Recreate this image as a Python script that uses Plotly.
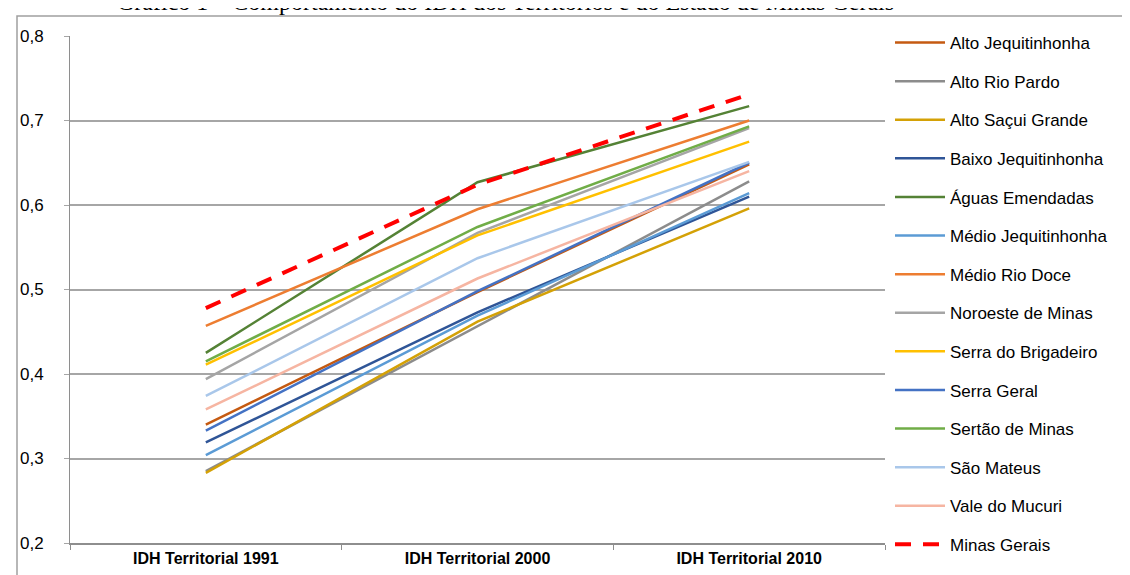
import plotly.graph_objects as go

categories = ["IDH Territorial 1991", "IDH Territorial 2000", "IDH Territorial 2010"]

alto_jequitinhonha = [0.340, 0.497, 0.648]
alto_rio_pardo = [0.285, 0.456, 0.628]
alto_sacui_grande = [0.283, 0.462, 0.596]
baixo_jequitinhonha = [0.319, 0.473, 0.610]
aguas_emendadas = [0.425, 0.627, 0.717]
medio_jequitinhonha = [0.304, 0.469, 0.614]
medio_rio_doce = [0.457, 0.595, 0.700]
noroeste_de_minas = [0.394, 0.567, 0.691]
serra_do_brigadeiro = [0.411, 0.564, 0.675]
serra_geral = [0.333, 0.498, 0.650]
sertao_de_minas = [0.415, 0.574, 0.693]
sao_mateus = [0.374, 0.537, 0.651]
vale_do_mucuri = [0.358, 0.513, 0.640]
minas_gerais = [0.478, 0.624, 0.731]

series_names = [
    "Alto Jequitinhonha", "Alto Rio Pardo", "Alto Saçui Grande", "Baixo Jequitinhonha",
    "Águas Emendadas", "Médio Jequitinhonha", "Médio Rio Doce", "Noroeste de Minas",
    "Serra do Brigadeiro", "Serra Geral", "Sertão de Minas", "São Mateus",
    "Vale do Mucuri", "Minas Gerais",
]
series_values = [
    alto_jequitinhonha, alto_rio_pardo, alto_sacui_grande, baixo_jequitinhonha,
    aguas_emendadas, medio_jequitinhonha, medio_rio_doce, noroeste_de_minas,
    serra_do_brigadeiro, serra_geral, sertao_de_minas, sao_mateus,
    vale_do_mucuri, minas_gerais,
]
series_colors = [
    "#C55A11", "#8C8C8C", "#D4A106", "#2F5597",
    "#548235", "#5B9BD5", "#ED7D31", "#A5A5A5",
    "#FFC000", "#4472C4", "#70AD47", "#A9C7EA",
    "#F6B5A2", "#FF0000",
]

fig = go.Figure()
for i, (name, vals, col) in enumerate(zip(series_names, series_values, series_colors)):
    if name == "Minas Gerais":
        line = dict(color=col, width=4, dash="16px,12px")
    else:
        line = dict(color=col, width=2.5)
    fig.add_trace(go.Scatter(
        x=categories, y=vals, mode="lines", name=name, line=line,
        legendgroup=f"g{i}",
    ))

W, H = 1130, 575
L, R, T, B = 62, 253, 28, 40
pw, ph = W - L - R, H - T - B

def px_x(p):
    return (p - L) / pw

def px_y(p):
    return (H - B - p) / ph

fig.update_layout(
    width=W, height=H,
    margin=dict(l=L, r=R, t=T, b=B, pad=0),
    paper_bgcolor="white", plot_bgcolor="white",
    separators=",.",
    font=dict(family="Liberation Sans, Arial, sans-serif", color="#000000"),
    showlegend=True,
    legend=dict(
        x=px_x(882), y=px_y(17), xanchor="left", yanchor="top",
        font=dict(size=17, family="Liberation Sans, Arial, sans-serif", color="#000000"),
        tracegroupgap=13.5, itemwidth=50, bgcolor="rgba(0,0,0,0)",
        maxheight=570,
    ),
    xaxis=dict(
        type="category", range=[-0.5, 2.5], showgrid=False, showline=True,
        linecolor="#8E8E8E", linewidth=2,
        ticks="outside", tickson="boundaries", ticklen=5, tickcolor="#8E8E8E",
        tickfont=dict(size=16, family="Liberation Sans, Arial, sans-serif", color="#000000", weight="bold"),
        zeroline=False, fixedrange=True,
    ),
    yaxis=dict(
        range=[0.2, 0.8], dtick=0.1, tick0=0.2, tickformat=".1f",
        showgrid=True, gridcolor="#A6A6A6", gridwidth=1.5,
        showline=True, linecolor="#8E8E8E", linewidth=1,
        ticks="outside", ticklen=5, tickcolor="#A6A6A6", ticklabelstandoff=17,
        tickfont=dict(size=17, family="Liberation Sans, Arial, sans-serif", color="#000000"),
        zeroline=False, fixedrange=True,
    ),
    shapes=[dict(
        type="rect", xref="paper", yref="paper",
        x0=px_x(9), x1=px_x(1127), y0=px_y(574), y1=px_y(8),
        line=dict(color="#A0A0A0", width=1.5), fillcolor="rgba(0,0,0,0)", layer="below",
    )],
    annotations=[dict(
        text="Gráfico 1 – Comportamento do IDH dos Territórios e do Estado de Minas Gerais",
        xref="paper", yref="paper", x=px_x(107), y=px_y(8.6),
        xanchor="left", yanchor="bottom", showarrow=False,
        font=dict(family="Liberation Serif, Times New Roman, serif", size=24, color="#000000"),
    )],
)

fig.write_html("out.html")
